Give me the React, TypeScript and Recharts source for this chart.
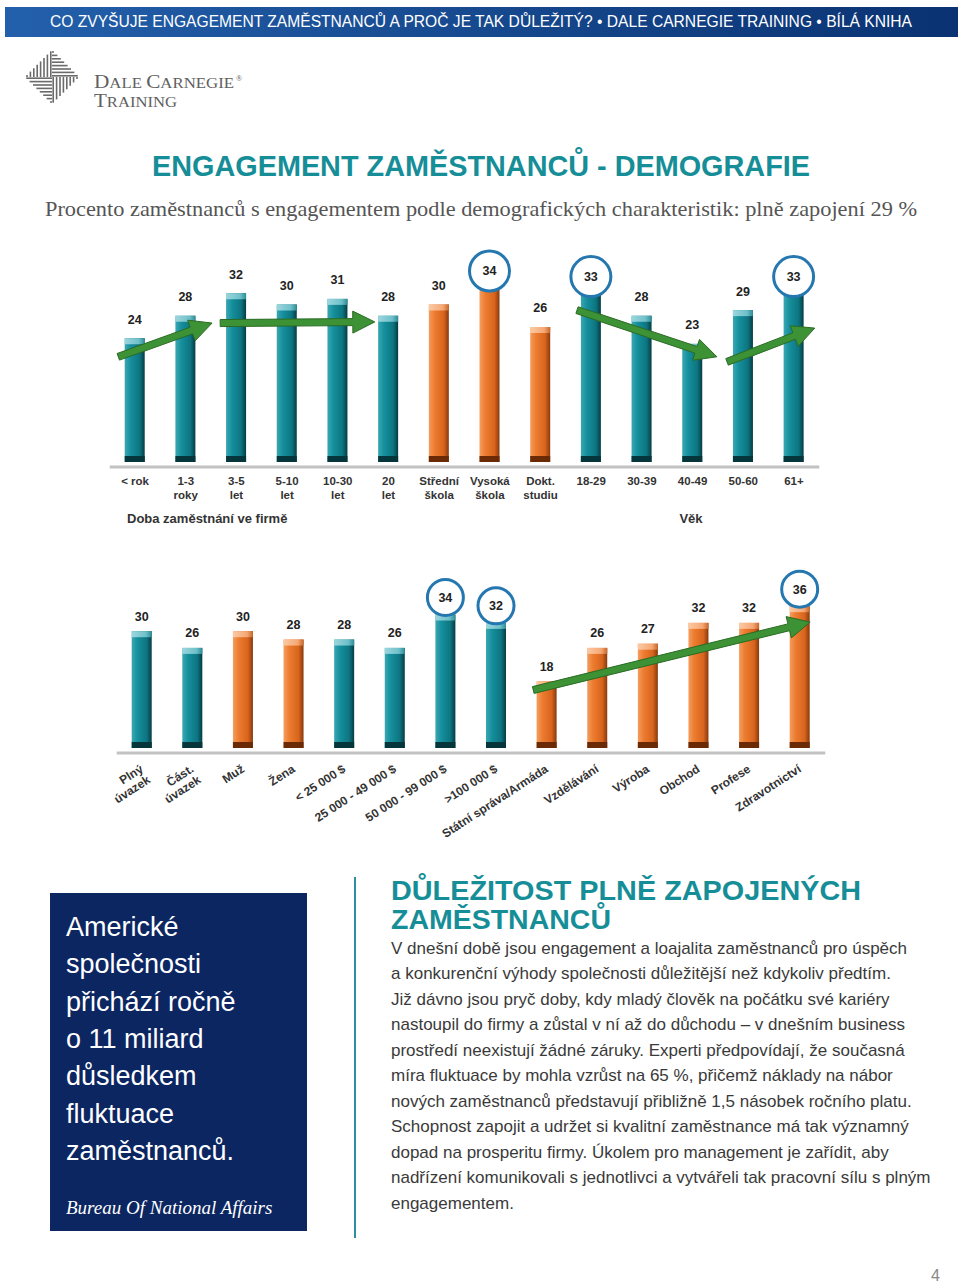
import React from 'react';
import { BarChart, Bar, XAxis, YAxis, LabelList, ReferenceLine } from 'recharts';

// --- top chart: tenure, education, age
const tenureCats = ['< rok', '1-3\nroky', '3-5\nlet', '5-10\nlet', '10-30\nlet', '20\nlet'];
const tenureValues = [24, 28, 32, 30, 31, 28];
const educationCats = ['Střední\nškola', 'Vysoká\nškola', 'Dokt.\nstudiu'];
const educationValues = [30, 34, 26];
const ageCats = ['18-29', '30-39', '40-49', '50-60', '61+'];
const ageValues = [33, 28, 23, 29, 33];
const topCircled = ['Vysoká\nškola', '18-29', '61+'];

// --- bottom chart: employment, gender, income, sector
const employmentCats = ['Plný\núvazek', 'Část.\núvazek'];
const employmentValues = [30, 26];
const genderCats = ['Muž', 'Žena'];
const genderValues = [30, 28];
const incomeCats = ['< 25 000 $', '25 000 - 49 000 $', '50 000 - 99 000 $', '>100 000 $'];
const incomeValues = [28, 26, 34, 32];
const sectorCats = ['Státní správa/Armáda', 'Vzdělávání', 'Výroba', 'Obchod', 'Profese', 'Zdravotnictví'];
const sectorValues = [18, 26, 27, 32, 32, 36];
const bottomCircled = ['50 000 - 99 000 $', '>100 000 $', 'Zdravotnictví'];

// trend arrows: [bar index from, value from, bar index to, value to] (0 = centre of first bar)
const topArrows = [
  [-0.33, 20.7, 1.52, 26.7],
  [1.68, 26.7, 4.73, 26.9],
  [8.72, 29.0, 11.48, 20.7],
  [11.68, 19.8, 13.41, 25.8],
];
const bottomArrows = [[7.73, 15.9, 13.2, 32.2]];

const bodyLines = [
  'V dnešní době jsou engagement a loajalita zaměstnanců pro úspěch',
  'a konkurenční výhody společnosti důležitější než kdykoliv předtím.',
  'Již dávno jsou pryč doby, kdy mladý člověk na počátku své kariéry',
  'nastoupil do firmy a zůstal v ní až do důchodu – v dnešním business',
  'prostředí neexistují žádné záruky. Experti předpovídají, že současná',
  'míra fluktuace by mohla vzrůst na 65 %, přičemž náklady na nábor',
  'nových zaměstnanců představují přibližně 1,5 násobek ročního platu.',
  'Schopnost zapojit a udržet si kvalitní zaměstnance má tak významný',
  'dopad na prosperitu firmy. Úkolem pro management je zařídit, aby',
  'nadřízení komunikovali s jednotlivci a vytvářeli tak pracovní sílu s plným',
  'engagementem.',
];
const boxLines = ['Americké', 'společnosti', 'přichází ročně', 'o 11 miliard', 'důsledkem', 'fluktuace', 'zaměstnanců.'];

const SANS = '"Liberation Sans", Arial, sans-serif';
const SERIF = '"Liberation Serif", "Times New Roman", serif';

type Row = { name: string; value: number; tone: 'teal' | 'orange' };

function rows(parts: [string[], number[], 'teal' | 'orange'][]): Row[] {
  return parts.flatMap(([cats, vals, tone]) => cats.map((name, i) => ({ name, value: vals[i], tone })));
}

const topData = rows([
  [tenureCats, tenureValues, 'teal'],
  [educationCats, educationValues, 'orange'],
  [ageCats, ageValues, 'teal'],
]);
const bottomData = rows([
  [employmentCats, employmentValues, 'teal'],
  [genderCats, genderValues, 'orange'],
  [incomeCats, incomeValues, 'teal'],
  [sectorCats, sectorValues, 'orange'],
]);

const Gradients = () => (
  <defs>
    <linearGradient id="teal-body" x1="0" y1="0" x2="1" y2="0">
      <stop offset="0%" stopColor="#3aa7b3" />
      <stop offset="30%" stopColor="#158f9c" />
      <stop offset="75%" stopColor="#0d7581" />
      <stop offset="100%" stopColor="#053c44" />
    </linearGradient>
    <linearGradient id="teal-top" x1="0" y1="0" x2="1" y2="0">
      <stop offset="0%" stopColor="#9cd6dd" />
      <stop offset="70%" stopColor="#6fc0ca" />
      <stop offset="100%" stopColor="#2d8d98" />
    </linearGradient>
    <linearGradient id="orange-body" x1="0" y1="0" x2="1" y2="0">
      <stop offset="0%" stopColor="#f49d5e" />
      <stop offset="30%" stopColor="#ec7b2f" />
      <stop offset="75%" stopColor="#d8641d" />
      <stop offset="100%" stopColor="#863a0c" />
    </linearGradient>
    <linearGradient id="orange-top" x1="0" y1="0" x2="1" y2="0">
      <stop offset="0%" stopColor="#fbc9a4" />
      <stop offset="70%" stopColor="#f5a874" />
      <stop offset="100%" stopColor="#c9672a" />
    </linearGradient>
  </defs>
);

function Cylinder(props: any) {
  const { x, y, width, height, payload, trim } = props;
  if (!height || height <= trim) return null;
  const h = height - trim;
  const tone = payload.tone;
  const dark = tone === 'teal' ? '#05363c' : '#6a2a06';
  return (
    <g>
      <rect x={x} y={y} width={width} height={h} fill={`url(#${tone}-body)`} />
      <rect x={x} y={y} width={width} height={6} fill={`url(#${tone}-top)`} />
      <rect x={x} y={y + h - 6} width={width} height={6} fill={dark} />
    </g>
  );
}

function Arrow(props: any) {
  const { x1, y1, x2, y2 } = props;
  if ([x1, y1, x2, y2].some((v) => typeof v !== 'number' || isNaN(v))) return null;
  const dx = x2 - x1;
  const dy = y2 - y1;
  const len = Math.hypot(dx, dy);
  const ux = dx / len;
  const uy = dy / len;
  const px = -uy;
  const py = ux;
  const hl = 22;
  const hw = 11;
  const sw = 3.5;
  const bx = x2 - ux * hl;
  const by = y2 - uy * hl;
  const pts = [
    [x1 + px * sw, y1 + py * sw],
    [bx + px * sw, by + py * sw],
    [bx + px * hw, by + py * hw],
    [x2, y2],
    [bx - px * hw, by - py * hw],
    [bx - px * sw, by - py * sw],
    [x1 - px * sw, y1 - py * sw],
  ]
    .map((p) => p.join(','))
    .join(' ');
  return <polygon points={pts} fill="#3e9236" stroke="#2a6b24" strokeWidth={1} strokeLinejoin="round" />;
}

function makeValueLabel(data: Row[], circled: string[], plainGap: number, circleGap: number, r: number) {
  return (p: any) => {
    const vb = p.viewBox ?? p;
    const x = vb.x ?? p.x;
    const y = vb.y ?? p.y;
    const w = vb.width ?? p.width;
    const row = data[p.index];
    if (!row) return null;
    const cx = x + w / 2;
    const isCircled = circled.includes(row.name);
    const cy = isCircled ? y - circleGap : y - plainGap;
    return (
      <g>
        {isCircled && <circle cx={cx} cy={cy} r={r} fill="#fff" stroke="#2577b0" strokeWidth={3} />}
        <text x={cx} y={cy + 4.5} textAnchor="middle" fontFamily={SANS} fontWeight="bold" fontSize={12.5} fill="#222">
          {row.value}
        </text>
      </g>
    );
  };
}

function TopTick(props: any) {
  const { x, y, payload } = props;
  const lines = String(payload.value).split('\n');
  return (
    <text x={x} y={y + 18} textAnchor="middle" fontFamily={SANS} fontWeight="bold" fontSize={11.5} fill="#333">
      {lines.map((l, i) => (
        <tspan key={i} x={x} dy={i === 0 ? 0 : 14}>
          {l}
        </tspan>
      ))}
    </text>
  );
}

function SlantTick(props: any) {
  const { x, y, payload } = props;
  const lines = String(payload.value).split('\n');
  const ax = x + 2;
  const ay = y + 18;
  return (
    <text
      x={ax}
      y={ay}
      textAnchor="end"
      transform={`rotate(-33 ${ax} ${ay})`}
      fontFamily={SANS}
      fontWeight="bold"
      fontSize={12}
      fill="#333"
    >
      {lines.map((l, i) => (
        <tspan key={i} x={ax} dy={i === 0 ? 0 : 13}>
          {l}
        </tspan>
      ))}
    </text>
  );
}

type ChartProps = {
  data: Row[];
  circled: string[];
  arrows: number[][];
  height: number;
  margin: { top: number; right: number; bottom: number; left: number };
  domain: [number, number];
  trim: number;
  tick: any;
  axisHeight: number;
  plainGap: number;
  circleGap: number;
  r: number;
};

function DemoChart(c: ChartProps) {
  const n = c.data.length;
  // hidden linear axis spans the plot from 0 to n-1; convert a bar index to it
  const pos = (i: number) => ((i + 0.5) * (n - 1)) / n;
  return (
    <BarChart width={740} height={c.height} data={c.data} margin={c.margin} barCategoryGap={0}>
      <Gradients />
      <XAxis
        dataKey="name"
        interval={0}
        tickSize={0}
        tickMargin={0}
        tickLine={false}
        axisLine={{ stroke: '#c2c2c2', strokeWidth: 3 }}
        tick={c.tick}
        height={c.axisHeight}
      />
      <XAxis xAxisId="idx" type="number" domain={[0, n - 1]} hide allowDataOverflow />
      <YAxis domain={c.domain} hide allowDataOverflow />
      <Bar
        dataKey="value"
        barSize={20}
        isAnimationActive={false}
        shape={(p: any) => <Cylinder {...p} trim={c.trim} />}
      >
        <LabelList dataKey="value" content={makeValueLabel(c.data, c.circled, c.plainGap, c.circleGap, c.r)} />
      </Bar>
      {c.arrows.map((a, i) => (
        <ReferenceLine
          key={i}
          xAxisId="idx"
          ifOverflow="visible"
          segment={[
            { x: pos(a[0]), y: a[1] },
            { x: pos(a[2]), y: a[3] },
          ]}
          shape={(p: any) => <Arrow {...p} />}
        />
      ))}
    </BarChart>
  );
}

function Logo() {
  const cx = 52;
  const cy = 77;
  const s = 27;
  const lines: React.ReactNode[] = [];
  for (let k = 0; k < 8; k++) {
    const d = 2 + k * 3.4;
    // top-left: vertical, top-right: horizontal, bottom-right: vertical, bottom-left: horizontal
    lines.push(<line key={`a${k}`} x1={cx - s + d} y1={cy - d} x2={cx - s + d} y2={cy} />);
    lines.push(<line key={`b${k}`} x1={cx} y1={cy - s + d} x2={cx + d} y2={cy - s + d} />);
    lines.push(<line key={`c${k}`} x1={cx + s - d} y1={cy} x2={cx + s - d} y2={cy + d} />);
    lines.push(<line key={`d${k}`} x1={cx - d} y1={cy + s - d} x2={cx} y2={cy + s - d} />);
  }
  return (
    <g>
      <g stroke="#6a6a6a" strokeWidth={1.6}>{lines}</g>
      <text x={94} y={88} fontFamily={SERIF} fill="#606060" textLength={140} lengthAdjust="spacingAndGlyphs">
        <tspan fontSize={19}>D</tspan>
        <tspan fontSize={15}>ALE </tspan>
        <tspan fontSize={19}>C</tspan>
        <tspan fontSize={15}>ARNEGIE</tspan>
      </text>
      <text x={236} y={81} fontFamily={SERIF} fontSize={8} fill="#606060">®</text>
      <text x={94} y={107} fontFamily={SERIF} fill="#606060" textLength={83} lengthAdjust="spacingAndGlyphs">
        <tspan fontSize={19}>T</tspan>
        <tspan fontSize={15}>RAINING</tspan>
      </text>
    </g>
  );
}

export default function App() {
  return (
    <div style={{ position: 'absolute', left: 0, top: 0, width: 960, height: 1283, background: '#fff', overflow: 'hidden' }}>
      <svg width={960} height={1283} style={{ position: 'absolute', left: 0, top: 0 }}>
        <defs>
          <linearGradient id="hdr" x1="0" y1="0" x2="1" y2="0">
            <stop offset="0%" stopColor="#2360ab" />
            <stop offset="100%" stopColor="#0a3272" />
          </linearGradient>
        </defs>
        <rect x={5} y={7} width={953} height={30} fill="url(#hdr)" />
        <text x={50} y={27} fontFamily={SANS} fontSize={16} fill="#fff" textLength={862} lengthAdjust="spacingAndGlyphs">
          CO ZVYŠUJE ENGAGEMENT ZAMĚSTNANCŮ A PROČ JE TAK DŮLEŽITÝ?  •  DALE CARNEGIE TRAINING  •  BÍLÁ KNIHA
        </text>
        <Logo />
        <text x={152} y={176} fontFamily={SANS} fontWeight="bold" fontSize={30} fill="#168e98" textLength={658} lengthAdjust="spacingAndGlyphs">
          ENGAGEMENT ZAMĚSTNANCŮ - DEMOGRAFIE
        </text>
        <text x={45} y={216} fontFamily={SERIF} fontSize={21} fill="#555" textLength={872} lengthAdjust="spacingAndGlyphs">
          Procento zaměstnanců s engagementem podle demografických charakteristik: plně zapojení 29 %
        </text>
        <text x={127} y={523} fontFamily={SANS} fontWeight="bold" fontSize={13} fill="#333">
          Doba zaměstnání ve firmě
        </text>
        <text x={691} y={523} textAnchor="middle" fontFamily={SANS} fontWeight="bold" fontSize={13} fill="#333">
          Věk
        </text>

        <rect x={50} y={893} width={257} height={338} fill="#0c2662" />
        {boxLines.map((l, i) => (
          <text key={i} x={66} y={936 + i * 37.3} fontFamily={SANS} fontSize={27} fill="#fff">
            {l}
          </text>
        ))}
        <text x={66} y={1214} fontFamily={SERIF} fontStyle="italic" fontSize={19} fill="#fff">
          Bureau Of National Affairs
        </text>
        <line x1={355} y1={877} x2={355} y2={1238} stroke="#2f8f9c" strokeWidth={2} />

        <text x={391} y={900} fontFamily={SANS} fontWeight="bold" fontSize={28} fill="#168e98" textLength={470} lengthAdjust="spacingAndGlyphs">
          DŮLEŽITOST PLNĚ ZAPOJENÝCH
        </text>
        <text x={391} y={929} fontFamily={SANS} fontWeight="bold" fontSize={28} fill="#168e98" textLength={220} lengthAdjust="spacingAndGlyphs">
          ZAMĚSTNANCŮ
        </text>
        {bodyLines.map((l, i) => (
          <text key={i} x={391} y={954 + i * 25.45} fontFamily={SANS} fontSize={17} fill="#3a3a3a">
            {l}
          </text>
        ))}
        <text x={931} y={1281} fontFamily={SANS} fontSize={16} fill="#888">
          4
        </text>
      </svg>

      <div style={{ position: 'absolute', left: 100, top: 240 }}>
        <DemoChart
          data={topData}
          circled={topCircled}
          arrows={topArrows}
          height={267}
          margin={{ top: 19.5, right: 20.7, bottom: 0, left: 9.7 }}
          domain={[1.11, 38]}
          trim={5}
          tick={<TopTick />}
          axisHeight={40}
          plainGap={19}
          circleGap={11}
          r={20}
        />
      </div>
      <div style={{ position: 'absolute', left: 100, top: 560 }}>
        <DemoChart
          data={bottomData}
          circled={bottomCircled}
          arrows={bottomArrows}
          height={293}
          margin={{ top: 29.5, right: 14.7, bottom: 0, left: 16.7 }}
          domain={[0.8, 40]}
          trim={5}
          tick={<SlantTick />}
          axisHeight={100}
          plainGap={15}
          circleGap={17}
          r={18}
        />
      </div>
    </div>
  );
}
